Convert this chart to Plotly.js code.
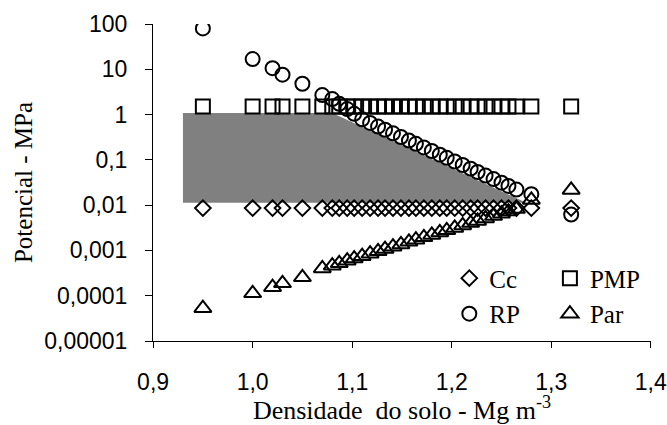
<!DOCTYPE html>
<html>
<head>
<meta charset="utf-8">
<script src="https://cdn.plot.ly/plotly-3.0.1.min.js"></script>
<style>html,body{margin:0;padding:0;background:#fff;}#chart{width:667px;height:425px;}</style>
</head>
<body>
<div id="chart"></div>
<script>
// Densidade do solo (Mg m-3)
const densidade = [0.95, 1.00, 1.02, 1.03, 1.05, 1.07, 1.08,
  1.087, 1.095, 1.102, 1.110, 1.118, 1.126, 1.133, 1.141, 1.149, 1.157, 1.164, 1.172,
  1.180, 1.188, 1.195, 1.203, 1.211, 1.219, 1.226, 1.234, 1.242, 1.250, 1.257, 1.265,
  1.28, 1.32];
// Potencial (MPa)
const cc  = [0.0086,0.0086,0.0086,0.0086,0.0086,0.0086,0.0086,
  0.0086,0.0086,0.0086,0.0086,0.0086,0.0086,0.0086,0.0086,0.0086,0.0086,0.0086,0.0086,
  0.0086,0.0086,0.0086,0.0086,0.0086,0.0086,0.0086,0.0086,0.0086,0.0086,0.0086,0.0086,
  0.0086,0.0086];
const pmp = [1.5,1.5,1.5,1.5,1.5,1.5,1.5,
  1.5,1.5,1.5,1.5,1.5,1.5,1.5,1.5,1.5,1.5,1.5,1.5,
  1.5,1.5,1.5,1.5,1.5,1.5,1.5,1.5,1.5,1.5,1.5,1.5,
  1.5,1.5];
const rp  = [80, 16.8, 10.6, 7.6, 4.8, 2.7, 2.2,
  1.73, 1.32, 1.04, 0.785, 0.653, 0.543, 0.462, 0.385, 0.320, 0.266, 0.226, 0.188,
  0.157, 0.130, 0.111, 0.092, 0.077, 0.064, 0.054, 0.045, 0.0376, 0.0313, 0.0266, 0.0221,
  0.0175, 0.0062];
const par = [0.000053, 0.000113, 0.000154, 0.000188, 0.000255, 0.00040, 0.00046,
  0.00052, 0.000594, 0.000661, 0.000748, 0.000847, 0.000957, 0.00107, 0.00121, 0.00136, 0.00155, 0.00172, 0.00195,
  0.00220, 0.00249, 0.00278, 0.00314, 0.00356, 0.00402, 0.00448, 0.00507, 0.00574, 0.00649, 0.00723, 0.00818,
  0.013, 0.0217];
// Faixa (área sombreada)
const faixaX = [0.93, 1.08, 1.275, 0.93];
const faixaY = [1.08, 1.08, 0.0113, 0.0113];

const xTickVals = [0.9, 1.0, 1.1, 1.2, 1.3, 1.4];
const xTickText = ["0,9", "1,0", "1,1", "1,2", "1,3", "1,4"];
const yTickVals = [100, 10, 1, 0.1, 0.01, 0.001, 0.0001, 0.00001];
const yTickText = ["100", "10", "1", "0,1", "0,01", "0,001", "0,0001", "0,00001"];

const serif = "Times New Roman, Liberation Serif, serif";
const sans = "Arial, Liberation Sans, sans-serif";
const mk = (sym, size) => ({symbol: sym, size: size, color: "#000", line: {color: "#000", width: 2}});

const traces = [
  {x: faixaX, y: faixaY, mode: "lines", fill: "toself", fillcolor: "#808080",
   line: {width: 0, color: "#808080"}, showlegend: false, hoverinfo: "skip"},
  {x: densidade, y: cc, name: "Cc", mode: "markers", marker: mk("diamond-open", 12), legend: "legend"},
  {x: densidade, y: rp, name: "RP", mode: "markers", marker: mk("circle-open", 14), legend: "legend"},
  {x: densidade, y: pmp, name: "PMP", mode: "markers", marker: mk("square-open", 14), legend: "legend2"},
  {x: densidade, y: par, name: "Par", mode: "markers", marker: mk("triangle-up-open", 15), legend: "legend2"}
];

const legendBase = {
  font: {family: serif, size: 25, color: "#000"},
  bgcolor: "rgba(0,0,0,0)", borderwidth: 0,
  xanchor: "left", yanchor: "top", orientation: "v", itemwidth: 30, tracegroupgap: 0
};

const layout = {
  width: 667, height: 425,
  margin: {l: 153, r: 16, t: 24, b: 84, pad: 0},
  paper_bgcolor: "#fff", plot_bgcolor: "#fff",
  showlegend: true,
  legend: Object.assign({}, legendBase, {x: 0.595, y: 0.27}),
  legend2: Object.assign({}, legendBase, {x: 0.797, y: 0.27}),
  xaxis: {
    range: [0.8999, 1.4002], tickvals: xTickVals, ticktext: xTickText,
    ticks: "outside", ticklen: 6, tickcolor: "#000", tickwidth: 1,
    showline: true, linecolor: "#000", linewidth: 1, showgrid: false, zeroline: false,
    tickfont: {family: sans, size: 23, color: "#000"}, ticklabelstandoff: 14,
    title: {text: "Densidade\u00a0 do solo - Mg m<sup>-3</sup>", font: {family: serif, size: 26, color: "#000"}, standoff: 18}
  },
  yaxis: {
    type: "log", range: [-5, 2], tickvals: yTickVals, ticktext: yTickText,
    ticks: "outside", ticklen: 7, tickcolor: "#000", tickwidth: 1,
    showline: true, linecolor: "#000", linewidth: 1, showgrid: false, zeroline: false,
    tickfont: {family: sans, size: 23, color: "#000"}, ticklabelstandoff: 13,
    title: {text: "Potencial - MPa", font: {family: serif, size: 25, color: "#000"}, standoff: 4}
  }
};

Plotly.newPlot("chart", traces, layout, {staticPlot: true, displayModeBar: false});
</script>
</body>
</html>
